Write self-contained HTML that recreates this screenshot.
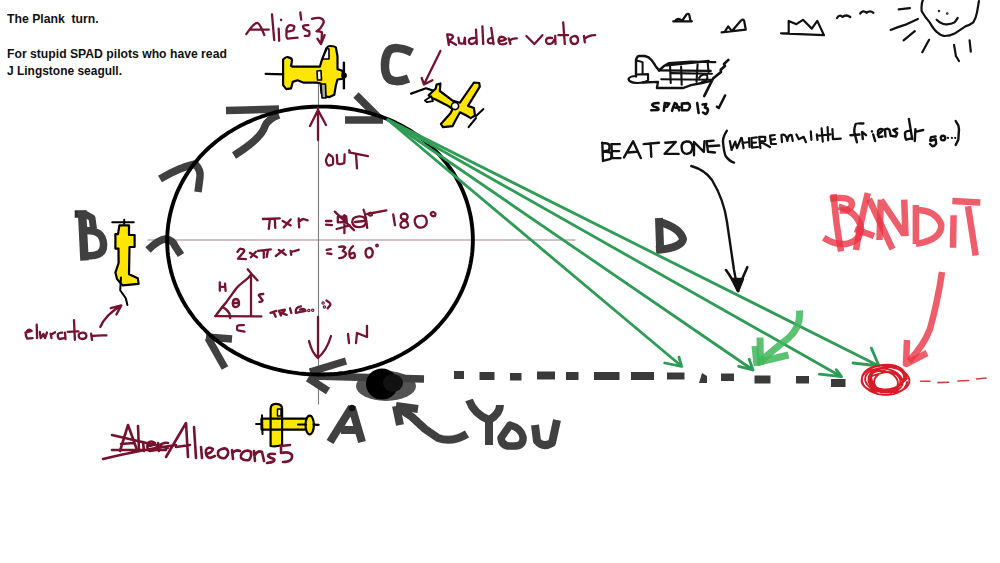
<!DOCTYPE html>
<html><head><meta charset="utf-8">
<style>
html,body{margin:0;padding:0;background:#fff;width:1000px;height:563px;overflow:hidden;}
.t{position:absolute;left:6.9px;font-family:"Liberation Sans",sans-serif;font-weight:bold;font-size:12.5px;color:#111;white-space:nowrap;line-height:16px;transform-origin:0 0;}
svg{position:absolute;left:0;top:0;}
</style></head><body>
<div class="t" style="top:11.2px;transform:scaleX(0.978)">The Plank&nbsp; turn.</div>
<div class="t" style="top:46.2px;transform:scaleX(0.975)">For stupid SPAD pilots who have read</div>
<div class="t" style="top:63px;transform:scaleX(0.957)">J Lingstone seagull.</div>
<svg width="1000" height="563" viewBox="0 0 1000 563" fill="none" stroke-linecap="round" stroke-linejoin="round">
<!-- axes -->
<line x1="148" y1="240" x2="575" y2="240" stroke="#c0acb2" stroke-width="1.3"/>
<line x1="318.5" y1="84" x2="318.5" y2="404" stroke="#7a7a7a" stroke-width="1.1"/>

<!-- gray marker strokes -->
<g stroke="#404040" stroke-width="7.5" stroke-linecap="butt" stroke-linejoin="round">
  <path d="M226 110.5 L279 109"/>
  <path d="M279 115 Q268 119 265 126 Q262 138 234 155.5"/>
  <path d="M160 179 Q178 168 195 164 M195 164 Q201 170 200 177 L198 192"/>
  <path d="M148 250 Q158 240 165 239 Q173 240 175 246 L181 255"/>
  <path d="M206 337 L232 339 M208 338 L225 368"/>
  <path d="M346 361 L310 372 M308 378 L328 391"/>
  <path d="M312 376 L424 379"/>
  <path d="M356 95 L381 120 M345 120 L383 120"/>
</g>
<!-- circle -->
<path d="M472.9 240.0 L472.8 244.0 L472.6 248.0 L472.3 252.0 L471.8 256.0 L471.2 259.9 L470.5 263.8 L469.7 267.7 L468.7 271.6 L467.6 275.4 L466.4 279.2 L465.1 283.0 L463.6 286.7 L462.1 290.3 L460.4 293.9 L458.7 297.4 L456.8 300.9 L454.8 304.3 L452.7 307.6 L450.6 310.9 L448.3 314.1 L446.0 317.2 L443.5 320.2 L441.0 323.2 L438.5 326.1 L435.8 328.9 L433.1 331.6 L430.3 334.2 L427.4 336.7 L424.5 339.2 L421.5 341.5 L418.5 343.8 L415.4 346.0 L412.3 348.1 L409.2 350.1 L406.0 352.0 L402.7 353.9 L399.5 355.6 L396.2 357.3 L392.9 358.9 L389.5 360.4 L386.1 361.8 L382.8 363.2 L379.4 364.4 L375.9 365.6 L372.5 366.7 L369.0 367.7 L365.6 368.7 L362.1 369.6 L358.6 370.4 L355.1 371.1 L351.6 371.8 L348.1 372.3 L344.6 372.9 L341.1 373.3 L337.6 373.7 L334.1 374.0 L330.6 374.2 L327.0 374.4 L323.5 374.5 L320.0 374.5 L316.5 374.5 L313.0 374.4 L309.4 374.2 L305.9 374.0 L302.4 373.7 L298.9 373.4 L295.4 372.9 L291.9 372.4 L288.3 371.8 L284.8 371.2 L281.4 370.5 L277.9 369.7 L274.4 368.8 L270.9 367.9 L267.5 366.9 L264.0 365.8 L260.6 364.6 L257.2 363.3 L253.8 362.0 L250.4 360.6 L247.0 359.1 L243.7 357.5 L240.4 355.8 L237.1 354.1 L233.9 352.2 L230.7 350.3 L227.5 348.3 L224.4 346.2 L221.3 344.0 L218.3 341.7 L215.3 339.4 L212.4 336.9 L209.5 334.4 L206.7 331.8 L204.0 329.0 L201.3 326.3 L198.7 323.4 L196.2 320.4 L193.7 317.4 L191.4 314.2 L189.1 311.0 L187.0 307.8 L184.9 304.4 L182.9 301.0 L181.1 297.5 L179.3 294.0 L177.7 290.4 L176.1 286.7 L174.7 283.0 L173.4 279.3 L172.2 275.5 L171.1 271.6 L170.2 267.8 L169.4 263.9 L168.7 259.9 L168.1 256.0 L167.7 252.0 L167.4 248.0 L167.2 244.0 L167.2 240.0 L167.3 236.0 L167.5 232.0 L167.9 228.0 L168.3 224.1 L169.0 220.1 L169.7 216.2 L170.6 212.3 L171.6 208.4 L172.7 204.6 L173.9 200.9 L175.3 197.1 L176.7 193.4 L178.3 189.8 L180.0 186.3 L181.8 182.7 L183.7 179.3 L185.7 175.9 L187.8 172.6 L190.0 169.4 L192.2 166.2 L194.6 163.2 L197.1 160.2 L199.6 157.2 L202.2 154.4 L204.9 151.7 L207.6 149.0 L210.4 146.4 L213.3 143.9 L216.2 141.5 L219.2 139.2 L222.2 136.9 L225.3 134.8 L228.4 132.7 L231.5 130.8 L234.7 128.9 L237.9 127.1 L241.2 125.3 L244.5 123.7 L247.8 122.1 L251.1 120.7 L254.4 119.3 L257.8 118.0 L261.2 116.7 L264.6 115.6 L268.0 114.5 L271.4 113.5 L274.9 112.5 L278.3 111.7 L281.7 110.9 L285.2 110.1 L288.7 109.5 L292.1 108.9 L295.6 108.4 L299.1 107.9 L302.6 107.5 L306.0 107.2 L309.5 107.0 L313.0 106.8 L316.5 106.6 L320.0 106.6 L323.5 106.6 L327.0 106.6 L330.5 106.8 L334.0 107.0 L337.5 107.3 L341.0 107.6 L344.5 108.0 L348.0 108.5 L351.4 109.0 L354.9 109.6 L358.4 110.3 L361.9 111.1 L365.4 111.9 L368.8 112.8 L372.3 113.8 L375.7 114.8 L379.2 116.0 L382.6 117.2 L386.0 118.5 L389.3 119.9 L392.7 121.4 L396.0 122.9 L399.3 124.5 L402.6 126.3 L405.9 128.1 L409.1 130.0 L412.3 132.0 L415.4 134.1 L418.5 136.2 L421.5 138.5 L424.5 140.8 L427.4 143.3 L430.3 145.8 L433.1 148.4 L435.8 151.1 L438.5 153.9 L441.1 156.8 L443.6 159.7 L446.1 162.7 L448.4 165.9 L450.7 169.0 L452.9 172.3 L454.9 175.6 L456.9 179.0 L458.8 182.5 L460.6 186.0 L462.2 189.6 L463.8 193.3 L465.2 197.0 L466.5 200.7 L467.7 204.5 L468.8 208.4 L469.7 212.2 L470.6 216.2 L471.3 220.1 L471.8 224.0 L472.3 228.0 L472.6 232.0 L472.8 236.0 Z" stroke="#000" stroke-width="3.9"/>

<!-- you blob -->
<ellipse cx="386" cy="386" rx="30" ry="15" fill="#404040" opacity="0.9"/>
<ellipse cx="382" cy="384" rx="16" ry="15.5" fill="#000"/>
<ellipse cx="393" cy="383" rx="10" ry="9" fill="#111"/>

<!-- letters gray -->
<g stroke="#404040" stroke-width="8" stroke-linecap="butt" stroke-linejoin="round">
  <!-- C -->
  <path d="M412 52.5 C401 47 391 46.5 388 52 C384 59 384 71 387.5 77 C391 82.5 400 82 408.5 78.5" stroke-width="8.5"/>
  <!-- B -->
  <path d="M74.7 214 L86.7 214" stroke-width="7.5" stroke="#2e2e2e"/>
  <path d="M82 211 L84.5 260.5" stroke-width="8.5"/>
  <path d="M85 214 L92 218 L93.5 229" stroke-width="7"/>
  <path d="M86 230.5 C97 230.5 103 234 103.5 244 C104 253 99 256 86 256" stroke-width="7.5"/>
  <!-- D -->
  <path d="M659 218 L660 246"/>
  <path d="M660 222 Q680 228 683 239 Q682 248 656 250"/>
  <!-- A -->
  <path d="M351.8 407 L330 442 M351.8 407 L362 442 M341 430 L356 430"/>
  <circle cx="352" cy="408" r="3.2" fill="#111" stroke="none"/>
  <!-- you arrow -->
  <path d="M396 406 L418 409 M396 406 L400 425"/>
  <path d="M397 407 L412 417 L425 429 L438 438 Q452 443 467 434"/>
  <!-- Y -->
  <path d="M469 400 Q474 414 489 420 Q500 414 500 405 M489 419 L489 445"/>
  <!-- O -->
  <path d="M510 425 L501 438 Q502 447 512 446 Q524 447 523 437 Q521 428 510 425 Z" stroke-width="7.5"/>
  <!-- U -->
  <path d="M535 425 L537 441 Q543 448 552 443 L557 420" stroke-width="8"/>
</g>

<!-- dashed line -->
<g fill="#3a3a3a">
  <rect x="454" y="371" width="10" height="8"/>
  <rect x="479.5" y="372" width="15" height="8"/>
  <rect x="510" y="373" width="11.5" height="7.5"/>
  <rect x="537" y="371.5" width="18" height="8"/>
  <rect x="566" y="372" width="12.5" height="8"/>
  <rect x="594" y="372" width="25.5" height="8"/>
  <rect x="631" y="372" width="23" height="8"/>
  <rect x="667" y="372.5" width="17.5" height="7"/>
  <path d="M699 383 L702 373 L707 376 L707 383 Z"/>
  <rect x="721" y="373.5" width="13" height="7.5"/>
  <rect x="754.5" y="375.5" width="16" height="8"/>
  <rect x="796" y="376" width="13" height="7.5"/>
  <rect x="831" y="379" width="14.5" height="8"/>
</g>

<!-- green lines -->
<g stroke="#2e9c55" stroke-width="2.8" stroke-linecap="round">
  <path d="M388 120 L681.6 366.3 M664.7 363 L681.6 366.3 L679 357.2"/>
  <path d="M388 120 L753 370 M738.8 366.3 L753 370 L749.2 359.3"/>
  <path d="M388 120 L841.5 376.7 M819.4 374.1 L841.5 376.7 L836.3 369.7"/>
  <path d="M388 120 L879 366 M853 363 L879 366 L871.4 348.1"/>
</g>
<!-- thick green arrow -->
<g stroke="#3fb75a" stroke-width="7" stroke-linecap="butt" stroke-opacity="0.85" stroke-linejoin="round">
  <path d="M799.5 310.5 Q801 327 788 338.5 Q778 346 762 360"/>
  <path d="M760 337.5 L760.5 365"/>
  <path d="M755 346 L757 366"/>
  <path d="M757.5 362.5 L788.5 355"/>
</g>
<!-- red scribble -->
<path d="M907.1 381.9 L906.3 385.1 L904.4 388.1 L901.5 390.7 L897.7 392.7 L893.3 394.1 L888.4 394.9 L883.3 394.8 L878.3 394.1 L873.6 392.6 L869.4 390.6 L866.0 388.0 L863.5 385.0 L862.1 381.8 L861.8 378.5 L862.6 375.2 L864.5 372.3 L867.4 369.7 L871.2 367.6 L875.6 366.2 L880.5 365.5 L885.5 365.5 L890.6 366.3 L895.3 367.7 L899.4 369.8 L902.8 372.4 L905.3 375.4 L906.8 378.6 L901.4 383.7 L898.2 386.3 L894.2 388.4 L889.7 390.1 L884.9 391.1 L880.0 391.5 L875.3 391.2 L870.9 390.2 L867.2 388.7 L864.4 386.6 L862.4 384.0 L861.6 381.2 L861.8 378.2 L863.1 375.2 L865.4 372.4 L868.6 369.8 L872.6 367.7 L877.1 366.0 L881.9 365.0 L886.8 364.6 L891.5 364.9 L895.8 365.9 L899.5 367.5 L902.4 369.6 L904.4 372.1 L905.2 374.9 L905.0 377.9 L903.7 380.9 L891.4 392.6 L886.8 392.4 L882.4 391.5 L878.2 390.1 L874.6 388.2 L871.8 385.8 L869.7 383.2 L868.7 380.3 L868.7 377.5 L869.6 374.8 L871.6 372.3 L874.4 370.2 L878.0 368.6 L882.1 367.6 L886.5 367.2 L891.1 367.4 L895.6 368.2 L899.7 369.7 L903.3 371.6 L906.2 373.9 L908.2 376.6 L909.3 379.4 L909.3 382.3 L908.3 385.0 L906.3 387.4 L903.5 389.5 L900.0 391.1 L895.9 392.2 L873.0 389.3 L869.8 387.2 L867.4 384.8 L865.8 382.2 L865.1 379.5 L865.4 376.9 L866.5 374.4 L868.6 372.3 L871.4 370.5 L874.9 369.3 L878.7 368.6 L882.9 368.5 L887.1 369.1 L891.2 370.2 L894.8 371.8 L898.0 373.9 L900.4 376.3 L902.0 378.9 L902.7 381.6 L902.4 384.2 L901.3 386.7 L899.2 388.8 L896.4 390.6 L893.0 391.8 L889.1 392.5 L884.9 392.5 L880.7 392.0 L876.7 390.9 L871.5 383.9 L870.3 381.6 L870.0 379.1 L870.5 376.6 L871.9 374.2 L874.0 372.0 L876.8 370.1 L880.1 368.6 L883.7 367.6 L887.5 367.1 L891.3 367.2 L894.9 367.8 L898.0 369.0 L900.7 370.6 L902.6 372.7 L903.8 374.9 L904.1 377.4 L903.5 379.9 L902.2 382.3 L900.0 384.6 L897.3 386.5 L894.0 387.9 L890.3 388.9 L886.5 389.4 L882.7 389.3 L879.2 388.7 L876.0 387.5 L873.4 385.9 L870.4 374.7 L872.3 373.1 L874.8 371.8 L877.7 371.0 L880.9 370.7 L884.2 371.0 L887.5 371.8 L890.5 373.1 L893.2 374.8 L895.3 376.9 L896.9 379.1 L897.8 381.5 L897.9 383.9 L897.3 386.2 L896.0 388.2 L894.0 389.9 L891.6 391.1 L888.6 391.9 L885.5 392.2 L882.2 391.9 L878.9 391.1 L875.9 389.8 L873.2 388.1 L871.0 386.1 L869.5 383.8 L868.6 381.4 L868.5 379.0 L869.1 376.8 L880.5 373.4 L883.2 372.5 L886.1 372.0 L889.1 372.0 L891.9 372.5 L894.6 373.5 L896.8 374.8 L898.6 376.5 L899.8 378.5 L900.4 380.6 L900.3 382.8 L899.6 384.9 L898.3 386.9 L896.4 388.6 L894.0 389.9 L891.3 390.9 L888.4 391.3 L885.5 391.3 L882.6 390.8 L880.0 389.9 L877.7 388.5 L876.0 386.8 L874.7 384.9 L874.1 382.7 L874.2 380.6 L874.9 378.4 L876.3 376.5 L878.2 374.8" stroke="#d61c26" stroke-width="1.9" fill="none"/>
<!-- red dashes -->
<g stroke="#c84040" stroke-width="1.6">
  <path d="M920.6 381.2 L930 381.2 M938 382.6 L948.6 382.2 M958 381 L968.6 380.5 M976.6 379 L986 378"/>
</g>
<!-- BANDIT -->
<g stroke="#ea3545" stroke-width="6.5" stroke-linecap="butt" stroke-opacity="0.8" stroke-linejoin="round">
  <path d="M833.6 194.2 Q836 225 841.1 251.4"/>
  <path d="M830 199 Q846 196 851 201 Q854 207 847 210.4 L839.8 210.4"/>
  <path d="M838.6 206.6 Q858 212 861 228 Q861 241 846 244 Q835 245 823.7 237.7"/>
  <path d="M856 250 Q861 220 867.8 193"/>
  <path d="M869 199 L892.5 249.1"/>
  <path d="M855 229 L874 236"/>
  <path d="M880.8 199.7 L879.5 240 M881 200 L904.2 234.8 M904.2 199.7 L905.5 236.1"/>
  <path d="M915.9 204.9 L915.9 243.9 M916 210 Q935.4 210 941.3 224.4 Q942 240 915.9 243.9"/>
  <path d="M953.6 215.3 L953 247.8"/>
  <path d="M952.3 201 L980.3 202.5 M968 206.2 L975.7 255.6"/>
<!-- red arrow -->
  <path d="M942 272 Q938 300 930 329 Q924 345 909 361"/>
  <path d="M907 340 L906 364 L927 353"/>
</g>


<!-- planes -->
<g stroke="#000" stroke-width="2.2" stroke-linejoin="round">
  <!-- plane 1 (top) -->
  <path d="M265.6 73.9 L295.1 74.7"/>
  <path fill="#ffe600" d="M283.1 59.5 Q286 56.5 288 57.1 Q292 58 292 60.3 L291.1 65.9 L292.7 66.7 L319.9 66.7 L321.5 61.1 L326.3 48.4 Q328 46 329.5 46 Q335 46 335.9 47.6 L337.5 56.3 L337.5 69.1 L342.3 70.7 L343.9 78.7 L337.5 79.5 L335.9 85.1 L334.3 94.7 L329.5 97.1 L324.7 96.3 L321.5 93.1 L320.7 83.5 L316.7 82.7 L303.9 82.7 L297.5 80.3 L292.7 81.9 L291.1 88.3 L286.3 89.1 L283.1 85.1 L283.1 73.9 Z"/>
  <path fill="#fff" d="M322.5 59 L327 48.5 L329 49 L329 59 Z" stroke-width="1.6"/>
  <path fill="#fff" d="M317 71 L321 70.5 L321.5 80 L317.5 80 Z" stroke-width="1.6"/>
  <path fill="#aaa" d="M321 84 L325.5 84 L326 98 L322 98 Z" stroke-width="1.6"/>
  <path d="M343.9 62.7 L343.9 88.3" stroke-width="2.4"/>
  <circle cx="344" cy="75.5" r="1.8" fill="#000"/>
  <!-- plane 2 (ruddervator) -->
  <path d="M411.1 93.6 L426 88.3 L432.4 90.4"/>
  <path fill="#ffe600" d="M436.6 84.6 L440.4 83.5 L439.8 91 L452.6 100.6 L460 102.7 L473.9 82.5 L479.2 83 L479.8 86.7 L468 105.9 L473.9 108 L475 115.5 L470.7 118.1 L466.4 115.5 L460 112.3 L455.8 119.7 L452.6 126.1 L443 127.2 L440.9 124 L450.5 113.3 L452.6 109.1 L447.3 105.4 L435.6 99.5 L431.3 97.9 L428.6 95.2 L435.6 88.8 Z"/>
  <path fill="#fff" d="M424.9 100.6 L431.3 96.3 L432.9 101.1 L427 102.2 Z" stroke-width="1.8"/>
  <circle cx="455" cy="106" r="3.6" fill="#fff" stroke-width="1.6"/>
  <path d="M468.6 127.2 L476 118 M476 116 L483.5 109.1" stroke-width="2"/>
  <!-- plane 3 (bottom) -->
  <rect x="261.5" y="418.6" width="44.5" height="11" fill="#ffe600" stroke="none"/>
  <rect x="270.6" y="403.8" width="11.5" height="42" rx="5" ry="4" fill="#ffe600" stroke="none"/>
  <ellipse cx="309.7" cy="425" rx="4.2" ry="9.4" fill="#ffe600"/>
  <path d="M261.5 418.6 L305.6 418.6 M261.5 429.6 L305.6 429.6 M261.5 418.6 L261.5 429.6"/>
  <path d="M270.6 446 L270.6 409 Q270.6 403.8 276 403.8 Q282.1 403.8 282.1 409 L282.1 445 Q276 447 270.6 446"/>
  <path fill="#fff" d="M277.5 409 L281 409 L281 416 L277.5 416 Z" stroke-width="1.5"/>
  <path d="M256.2 424 L262 424 M313.5 424.6 L318.6 424.8 M298 424.5 L306 424.5"/>
  <path d="M262 415.3 L262.5 434" stroke-width="2"/>
  <!-- plane 4 (B) -->
  <path d="M112.2 222.2 L133.8 222.2 M124.2 219.8 L124.2 224" stroke-width="2"/>
  <path fill="#ffe600" d="M119.4 225.4 L129 225.4 L129 235 L134.6 235 L134.6 247 L129.5 247 L129 274.2 L137.8 278.2 L138.6 283.8 L122.6 285.4 L117 279 L115.4 272.6 L118.6 263 L118.5 248.6 L115.4 248.6 L115.4 234.2 L118 234.2 Z"/>
  <path d="M121 277.4 L120.2 290.2 L125.8 298.2 L127.4 305" stroke-width="2"/>
</g>

<!-- maroon handwriting -->
<g stroke="#74122f" stroke-width="2.3">
  <!-- OUT -->
  <path d="M328.7 154.3 Q325 160 326.2 161.8 Q327 166 329.3 165.5 Q333 165 333 163.6 Q333.5 157 332.4 156.8 Z"/>
  <path d="M336.8 154.9 L337.4 163.6 Q340 165 344.3 163 L344.6 154.3"/>
  <path d="M349.2 152.4 L367.9 156.2 M356 154.3 L357 168.3 M349.2 150.3 L350 152"/>
  <!-- up arrow -->
  <path d="M318 108 L318 140 M310 126 L318 110 L326 125"/>
  <!-- down arrow -->
  <path d="M318 317 L318 358 M309 341 Q312 353 318 358 Q327 350 331 336"/>
  <!-- IN -->
  <path d="M348 334 L349 343 M356 343 L357 333 L367 337 L367 326"/>
  <!-- pi x r -->
  <path d="M262.8 219 L279.8 218.4 M269.8 219.4 L268.8 228.9 M274.8 219 L275.3 227.9"/>
  <path d="M282.7 220.9 L290.7 225.4 M290.7 219.4 L283.7 227.4"/>
  <path d="M298.7 218.4 L299.2 227.4 M298.7 221.9 Q302 219 303.6 219 L307.6 220.4"/>
  <!-- 2 x pi x r -->
  <path d="M237.5 251.8 Q240 248 241 248.8 Q245 249 243.9 251.8 L238 258.7 L245.9 259.2"/>
  <path d="M249.9 252.8 L256.9 257.3 M255.9 251.8 L250.9 257.3"/>
  <path d="M257.9 250.8 L270.8 249.3 M263.8 251.8 L263.8 257.8 M267.8 250.8 L266.8 256.8"/>
  <path d="M275.8 256 L283.7 249.8 M278.8 250 L285.7 254.8"/>
  <path d="M290.7 250.8 L291.2 254.8 M291 252 L298.7 249.8"/>
  <!-- = crossed 360 -> 180 -->
  <path d="M326 221 L331.4 221 M326 224.6 L332 225.2"/>
  <path d="M334.8 211.6 L354 230.2"/>
  <path d="M337.8 217 L346.2 216.4 L346.8 222 L337.8 222.4 Z M344.4 215.2 L344.4 233.2 M336.6 229 L349.8 225.4"/>
  <path d="M359 216.4 Q352 217 352.2 222 Q353 227.2 359 227.2 Q366 227 366 221.5 Q365.5 216 359 216.4 Z M355 222 L364 221"/>
  <path d="M363.6 209.8 Q366 216 367.2 227.8 M367.2 214 Q378 212 386.4 210.4"/>
  <path d="M370 212.5 Q368.4 213 368.8 215 Q370 216.4 372 215.5 Q372.5 212.5 370 212.5 Z" stroke-width="1.8"/>
  <path d="M393.2 214.4 L395 225.2"/>
  <path d="M404 213.5 Q400 214 401 218 Q404 221 407 219 Q409 214 404 213.5 Z M404 220.5 Q399 223 401 227 Q405 229 408 226 Q408 221 404 220.5 Z"/>
  <path d="M420.8 215.6 Q414 216 414.8 222 Q416 228 421 227.6 Q427 227 426.8 221 Q426 215 420.8 215.6 Z"/>
  <path d="M433.4 212 Q430.4 212.5 430.8 214.5 Q432 217 435 216 Q436.5 213 433.4 212 Z"/>
  <!-- = 360 -->
  <path d="M326.6 249.8 L330.8 249.2 M327.2 253.4 L331.4 254"/>
  <path d="M339.2 246.8 Q344 246 345.2 247.4 L342.8 251 Q347 253 345.8 254.6 Q344 258 339.2 258.2"/>
  <path d="M353 246.2 Q349 250 349.4 252.8 Q349 257 351.2 258.2 Q355 258 354.8 256.4 Q355 253 353.6 252.8 Q351 253 350 255"/>
  <path d="M369 248 Q365 249 365.6 253 Q366 257.6 369 257.6 Q372.8 257 372.8 252 Q372 248 369 248 Z"/>
  <circle cx="377" cy="245.5" r="0.8"/>
  <!-- triangle -->
  <path d="M215.2 316.1 L261.4 316.4 M251 275 L251 316.1"/>
  <path d="M215.9 315.5 Q222 307 225.6 303.1 L236 288.8 Q239 285 241.2 283.6 L247.7 278.4 L251 274.5"/>
  <path d="M247.7 269.3 L251.6 273.9 L257.5 280.4"/>
  <path d="M222.4 307 Q227 309 229.5 313.5 L230.2 318"/>
  <path d="M219.8 282.3 L219.8 290.8 M225 283.6 L225.6 290.8 M219.8 286.9 L225 286.9"/>
  <path d="M236 299 Q232.5 299.5 232.8 303.5 Q233 307.5 236 307 Q239.5 306.5 239 302.5 Q238.5 299 236 299 Z M233 303 L239 303"/>
  <path d="M263.3 294 Q259 294 258.8 295.3 L262.7 300.5 Q262 302 259.4 301.8"/>
  <path d="M243.8 325.2 Q238 325 237.3 325.9 Q236.5 330 238 330.4 L244.5 331.7"/>
  <path d="M270.5 312.9 L276.3 310.9 M273.7 312.2 L275.7 316.8"/>
  <path d="M278.9 310.9 L280.9 315.5 M279 311 Q284 309 284.8 309.6 Q285 312 281 313 L286.7 314.8"/>
  <path d="M290 308.3 L291.3 312.9"/>
  <path d="M301 306.4 Q295 307 295.8 312.9 L305.6 310.9 Q305 308 300 309.5"/>
  <circle cx="308.8" cy="310.5" r="0.6"/><circle cx="312.7" cy="310.3" r="0.6"/>
  <circle cx="323.1" cy="303.1" r="0.6"/><circle cx="324.4" cy="307" r="0.6"/>
  <path d="M326.4 300.5 Q331 303 330.3 305 L327.7 308.3"/>
  <!-- elevator -->
  <path d="M100.3 327 Q105 315 121.3 305.4 M110.8 308.2 L121.3 305.4 L116.4 314.5"/>
  <path d="M25.4 332.7 L31.7 330.9 Q30 329 28 330 Q25 333 26 336 L27.2 338.6 L32.6 338.1"/>
  <path d="M36.7 324.6 L37.1 338.1"/>
  <path d="M39.8 332 L40.7 338.1 L43.5 334 L45 338.1 L47 332.5"/>
  <path d="M50.6 333.6 L51.5 338.1 M51 335 Q53 333 55.1 332.3"/>
  <path d="M62.3 332.7 Q58 333 57.8 334.5 Q57.5 338 59.6 339 L64.1 338.1 M65 332.7 L65.5 339"/>
  <path d="M74 320.1 L74.9 339.9 M67.7 331.8 L78.5 331.4"/>
  <path d="M82.5 332.7 Q78.5 333 78.7 336 Q79 339 82.5 339 Q86.6 338.5 86.4 335.5 Q86 332.5 82.5 332.7 Z"/>
  <path d="M91.1 333.6 L92 339.9 M91.5 336 Q100 335 106.4 335.4"/>
  <!-- Alie's ? -->
  <path d="M246.3 34.1 Q250 29 251.7 26.9 Q255 23 257.1 22.9 Q259 23 261.6 28.7 L264.3 35 M249.9 29.6 L268.8 29.6"/>
  <path d="M272 14.3 L274.2 40"/>
  <path d="M281 19.7 L281.2 20 M278.7 28.7 L279.2 40.9"/>
  <path d="M286.8 31.9 L293.1 30.5 Q295 27 294 26 Q290 24.5 288.6 25.6 Q286 28 286.5 32 Q286 38 287.7 38.6 L297.6 37.7"/>
  <path d="M300.3 12.5 L301.2 19.7"/>
  <path d="M308.4 25.1 Q303 25 303 26 Q303 29 306 30 L309.3 31.4 Q310 35 308.4 35.9 L304.8 35.9"/>
  <path d="M312 18.8 Q316 17.5 319.2 17.9 Q324 19 323.7 22.4 Q322 26 320.1 28.7 L316.5 31.4 Q320 31 321.9 32.3 Q322 38 321 44 M317.4 38.6 L321 44 L324.6 35"/>
  <!-- Ruddervator -->
  <path d="M447.2 34.4 L448.8 44.8 M447.2 34.4 Q453 34 453 37 Q452 40 448 40 L456 44.8"/>
  <path d="M458.4 37.6 L459.2 43.2 Q462 44 464 43.2 L464.8 37.6 L465.2 44"/>
  <path d="M474.4 38 Q469 38 468.8 40.8 Q469 44 471.2 44 Q475 44 476 41 M476 29.6 L476.8 44"/>
  <path d="M482.4 26.4 L483.2 44"/>
  <path d="M491 38 Q487 39 488 42 Q489 44 493 43 M491.2 28 L493.6 44"/>
  <path d="M499 41 Q504 41 506 39 Q503 36 500 37 Q497 41 500 44 Q504 45 506.4 43.2"/>
  <path d="M508.8 38.4 L510.4 44 M509.5 40.5 Q513 38 516.8 38.4"/>
  <path d="M526.4 36 L534.4 44 L542.4 35.2"/>
  <path d="M552 38 Q547 37 546 40 Q546 44 549 44 Q553 44 554 40 M555.2 36 L555.5 44"/>
  <path d="M563.2 22.4 L564.8 44 M558.4 35.2 L568 35.2"/>
  <path d="M574.4 36 Q570 37 570.5 40 Q571 44 574.4 44 Q578 44 578 40 Q578 36 574.4 36 Z"/>
  <path d="M584 36 L584.8 42.4 M584.5 39 Q589 35 595.2 35.2"/>
  <path d="M440.4 50.9 L424.4 83.5 M421.7 78 L424 84.5 L432.4 80.3"/>
  <g stroke-width="2.6">
  <!-- crossed Alier + Ailerons 5 -->
  <path d="M120 451 L128 425 L137 450 M121 444 L134 443"/>
  <path d="M138 426 L139 451 M143 442 L144 451"/>
  <path d="M148 446 Q153 446 155 443 Q151 440 148 443 Q146 449 150 451 L155 450"/>
  <path d="M158 443 L159 451 M159 446 Q163 442 168 443"/>
  <path d="M112 435 L168 448 M103 459 Q140 450 176 445 M112 450 L166 450"/>
  <path d="M166 457 Q176 440 186 423 L188 457 M176 447 L190 445"/>
  <path d="M194 427 L196 458"/>
  <path d="M201 447 L202 458"/>
  <path d="M206 454 Q212 453 213 449 Q208 446 206 450 Q205 457 210 458 L215 456"/>
  <path d="M222 449 Q217 450 218 455 Q220 459 225 458 Q229 455 228 451 Q226 447 222 449 Z"/>
  <path d="M232 450 L233 459 M232.5 453 Q236 449 240 451"/>
  <path d="M245 451 Q240 453 241 458 Q244 461 249 460 Q252 456 251 452 Q249 450 245 451 Z"/>
  <path d="M254 451 L255 461 M255 455 Q258 450 262 452 L264 461"/>
  <path d="M275 454 Q268 453 268 456 Q270 458 274 459 Q276 462 267 463"/>
  <path d="M290 445 L281 446 L281 453 Q289 451 292 455 Q293 462 283 462"/>
  </g>
</g>
<!-- black sketches -->
<g stroke="#111" stroke-width="2.4">
  <!-- BEATZONE -->
  <path d="M602.3 142.7 L603 160.9 M602 143 Q608 143 609.3 144.8 Q610 149 608.6 150.4 L603 151.5 Q610 152 611.4 153.2 Q612 157 610.7 158.8 L603 160.9"/>
  <path d="M619.8 144.1 L611.4 144.1 L612.1 158.1 L620.5 158.1 M612.1 151.1 L619.1 151.1"/>
  <path d="M624 157.4 L633.1 141.3 L640.8 158.1 M628.2 152.5 L636.6 151.8"/>
  <path d="M643.6 144.1 L659 142.7 M650.6 143.4 L651.3 156.7"/>
  <path d="M665.3 142.7 L675.8 142 L664.6 153.9 L678.6 153.9"/>
  <path d="M686.5 141.5 Q681.4 142 681.6 147.5 Q682 153.9 687 153.9 Q692.6 153 692.5 147 Q692 141 686.5 141.5 Z"/>
  <path d="M694 155.3 L694 142 L703.8 151.8 L704.5 141.3"/>
  <path d="M713.6 140.6 L706.6 141.3 L708 151.8 L715 152.5 M708 146.2 L719.2 145.5"/>
  <!-- ( where my little friends dr go...) -->
  <path d="M726.8 130.8 Q722 138 723.2 144 Q724 152 725.6 156 Q729 161 734 162.6"/>
  <path d="M729.8 141 L731.6 150 L735.2 141.6 L737 148.2 L741.2 138" stroke-width="2.2"/>
  <path d="M741.8 138 L743.6 148.2 M742.5 143 L749 142 M749 138 L749.6 147" stroke-width="2.2"/>
  <path d="M756.8 137.4 L751.4 138 L752 147.6 L758 147 M752 142.8 L756 142.5" stroke-width="2.2"/>
  <path d="M760.4 148.2 L759.2 136.8 L765.2 136.8 L765.2 141 L760 141.5 L770 147" stroke-width="2.2"/>
  <path d="M774.8 135 L770 135.6 L771.2 144 L776 144 M770.6 139.8 L775 139.2" stroke-width="2.2"/>
  <path d="M782 142.2 L781.4 135 Q786 133 787.4 141 Q788 134 791.6 135 L792.8 141" stroke-width="2.2"/>
  <path d="M796.4 134.4 L798.8 139.2 L803.6 136.8 L806 142.2" stroke-width="2.2"/>
  <path d="M810.8 131.4 L811.4 139.8 M816.8 134.4 L817.5 140 M821.6 128.4 L822.8 141.6 M819 135.6 L825 135 M827.6 127.2 L828.2 140.4 M825.5 135 L830.5 134.4 M832.4 129 L833 139.2 L840.8 138.6" stroke-width="2.2"/>
  <path d="M863.4 123.5 Q856 123 855.6 124.1 Q854 128 854.3 131.9 L856.9 142.3 M850.4 135.2 L859.5 134.5"/>
  <path d="M862.8 139.1 L862.1 131.9 L866 135.2"/>
  <path d="M871.9 131.3 L872 131.5 M873.2 134.5 L875.1 141"/>
  <path d="M877.7 134.5 Q883 131 882.9 129.3 Q879 128 878 131 Q878 136 879 137.1 L882.5 136.5"/>
  <path d="M885.5 136.5 L884.9 129.3 Q889 128 889.5 130 L890.7 135.8"/>
  <path d="M897.2 128.7 L893.3 130 L897.2 133.2 L895.9 136.5 L892 136"/>
  <path d="M910.2 130.6 Q905 131 905 133.2 Q905 138 906.3 139.7 L911.5 138.4 M908.9 118.9 L912.2 139"/>
  <path d="M915.4 129.3 L914.8 141 M915.4 131.9 L923.2 130"/>
  <path d="M935.6 136.5 L931 137.1 Q930 140 930.4 141 L935.6 139.1 L936.2 143.6 Q935 146 932.3 146.2 L930 144"/>
  <path d="M943 135.8 Q940.8 136 940.8 138 Q941 140.4 943 140.4 Q945.3 140 945.3 138 Q945 135.8 943 135.8 Z"/>
  <path d="M947.9 137.8 L948.1 138 M951.8 137.8 L952 138 M955.1 137.8 L955.3 138" stroke-width="2"/>
  <path d="M955.7 120.9 Q959 125 959 129.3 L958.3 139.7 L955.7 144.9"/>
  <!-- beatzone arrow -->
  <path d="M691.3 166 Q705 170 712 180 Q724 200 727 222 Q731 250 734 270 L738 291"/>
  <path d="M726 270 Q732 278 738 291 Q742 278 747.3 267.2" stroke-width="2.6"/>
  <path d="M732 279 L738 291 L743 279 Z" fill="#111"/>
  <!-- SPAD plane -->
  <path d="M636 76.4 L636 59.9 Q637 56 639.3 56 L644.8 56 Q649 57 651.4 59.9 Q654 63 655.8 66.5 L659.1 70.4"/>
  <path d="M636.5 60.5 L642.6 62.1 L642.6 73.1" stroke-width="2"/>
  <path d="M636 74.5 L648 74.2 L648.1 80 Q645 83 637 83 Q629 82.5 628.5 79 Q630 76 636 76" stroke-width="2.2"/>
  <path d="M642.6 82.5 L658 81.9 L656.9 88 L683.3 88 L691 85.2 L702 83 L711 81" stroke-width="2.3"/>
  <path d="M659.1 70.4 Q663 66 669 63.2 L691 61.6 L715.2 62.1 M666.8 65.4 L708.6 61"/>
  <path d="M659.1 70.4 L710.8 70.9 M671.2 73.1 L711.9 73.7 M661.3 79.2 L710.8 79.7" stroke-width="2.1"/>
  <path d="M670.1 66.5 L670.7 83 M681.1 66.5 L681.7 84.7 M697.6 64.3 L696.5 81.9 M707.5 61 L708.6 72" stroke-width="2.1"/>
  <path d="M699 78 Q702 73 707 75 Q709 80 702 82" stroke-width="2"/>
  <path d="M728.4 59.9 L724 64 L725 66 L720.7 69.8 L721 72 L713 78.6 L704.2 96.2" stroke-width="2.6"/>
  <!-- SPAD 13 -->
  <path d="M658.5 103.1 Q652 102.8 652.2 105 Q653 106.8 656 107.2 Q659.5 108.5 658.2 110 L651.3 110.3" stroke-width="2.6"/>
  <path d="M663.9 110.8 L664.8 103.1 L669.3 103.6 L667 106.7 L665 106.7" stroke-width="2.6"/>
  <path d="M672 110.8 L674.7 103.1 L676.5 104 L679.2 110.3 M675.6 107.6 L679.8 107.2" stroke-width="2.6"/>
  <path d="M681.9 110.3 L681.9 103.6 L688.2 103.1 Q690 104 690 106.7 Q689 110 687.3 110.3 Z" stroke-width="2.6"/>
  <path d="M697.2 103.1 L698.6 113" stroke-width="2.6"/>
  <path d="M702.6 104.5 L706.2 104 L704.9 107.6 Q708 108 708 110.3 Q707 113.9 705.3 113.9 L703 112.5" stroke-width="2.6"/>
  <path d="M717 106.7 L718.8 108 L725.1 95.5" stroke-width="2.6"/>
  <!-- mountains -->
  <path d="M673.2 21.3 L691.9 21.3 M675 21 Q678 17 681.5 20.5 M682 21 L686.5 14.5 Q688.6 12.8 689.3 15 L690.5 21" stroke-width="2.2"/>
  <path d="M721.6 32.3 L745.8 29.7 M724.5 32 L728.2 26.4 L732 31.3 M732 31 L741 20.5 Q743.6 18.5 744.2 21 L745.8 29.7" stroke-width="2.2"/>
  <path d="M781 33.4 L788.7 33.4 L788.7 20.9 L796.4 24.2 L803 19.8 L811.8 28.6 L817.3 20.9 L824 35.2 Z" stroke-width="2.2"/>
  <path d="M837 18 Q839.5 14 842.5 17 Q846 14 850.3 17 M860.2 13.5 Q863 9.5 866.5 12.8 Q870 10 873.4 12.8" stroke-width="2.2"/>
  <!-- sun -->
  <path d="M922.9 0 Q921 3.7 921.7 11.2 Q925 17 929.7 22.4 Q934 30 937.2 32.3 Q941 36 944.7 36 Q950 36 954.6 33.6 L965.8 26.1 Q970 25 973.3 22.4 Q976 18 977 12.4 L978.9 1.2" stroke-width="2.2"/>
  <circle cx="939" cy="11" r="0.4" stroke-width="1.7" fill="#111"/><circle cx="947.2" cy="13.4" r="0.4" stroke-width="1.7" fill="#111"/>
  <path d="M936.6 19.7 Q941 24 945.9 24.3 Q951 24.5 954.6 22.4 L957.7 18" stroke-width="2.2"/>
  <path d="M898.7 9.3 L909.9 8.1 M890.6 29.9 Q898 27 904.9 24.9 L917.9 18.9 M903.6 40.4 L914.8 31.1 M922.3 52.2 L929.1 39.8 M954 44.8 Q955 50 955.9 56 L959 61 M969.6 40.4 L970.8 51.6" stroke-width="2.2"/>
</g>
</svg>
</body></html>
